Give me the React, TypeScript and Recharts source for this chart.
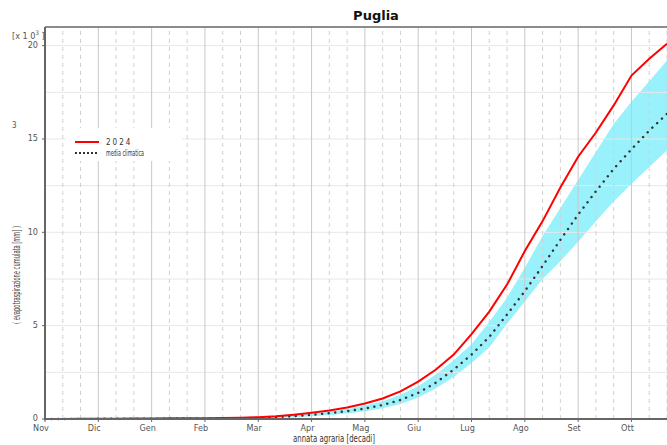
import React from 'react';
import { ComposedChart, Area, Line, XAxis, YAxis, ReferenceLine } from 'recharts';

const FONT = "'Liberation Sans Narrow', 'DejaVu Sans Condensed', 'Roboto', sans-serif";

const MESI = ['Nov', 'Dic', 'Gen', 'Feb', 'Mar', 'Apr', 'Mag', 'Giu', 'Lug', 'Ago', 'Set', 'Ott'];
const DECADI = [0, 1, 2, 3, 4, 5, 6, 7, 8, 9, 10, 11, 12, 13, 14, 15, 16, 17, 18, 19, 20, 21, 22, 23, 24, 25, 26, 27, 28, 29, 30, 31, 32, 33, 34, 35];
const MONTH_TICKS = [0, 3, 6, 9, 12, 15, 18, 21, 24, 27, 30, 33];
const Y_TICKS = [0, 5, 10, 15, 20];
const Y_GRID = [2.5, 5, 7.5, 10, 12.5, 15, 17.5, 20];

// valori in migliaia di mm (x 10^3)
const anno2024 = [0, 0.005, 0.01, 0.015, 0.02, 0.025, 0.03, 0.035, 0.04, 0.045, 0.05, 0.07, 0.1, 0.15, 0.23, 0.33, 0.45, 0.62, 0.83, 1.1, 1.48, 2.0, 2.65, 3.45, 4.55, 5.75, 7.2, 9.0, 10.6, 12.4, 14.05, 15.35, 16.8, 18.4, 19.3, 20.1];
const mediaClimatica = [0, 0.003, 0.006, 0.01, 0.013, 0.016, 0.02, 0.023, 0.026, 0.03, 0.035, 0.045, 0.06, 0.1, 0.15, 0.22, 0.31, 0.42, 0.56, 0.75, 1.02, 1.4, 1.95, 2.65, 3.45, 4.4, 5.6, 6.85, 8.2, 9.6, 10.95, 12.2, 13.4, 14.45, 15.45, 16.35];
const bandaSup = [0, 0.005, 0.01, 0.015, 0.02, 0.025, 0.03, 0.035, 0.04, 0.045, 0.05, 0.065, 0.09, 0.14, 0.21, 0.3, 0.4, 0.54, 0.72, 0.95, 1.3, 1.75, 2.4, 3.15, 4.0, 5.2, 6.5, 8.1, 9.8, 11.3, 12.8, 14.3, 15.8, 17.0, 18.1, 19.2];
const bandaInf = [0, 0.002, 0.004, 0.006, 0.008, 0.01, 0.012, 0.014, 0.016, 0.018, 0.02, 0.03, 0.04, 0.07, 0.1, 0.15, 0.22, 0.3, 0.42, 0.58, 0.8, 1.15, 1.65, 2.25, 3.0, 3.85, 5.1, 6.3, 7.5, 8.45, 9.5, 10.6, 11.65, 12.6, 13.5, 14.4];

const chartData = DECADI.map((d, i) => ({
  decade: d,
  anno: anno2024[i],
  media: mediaClimatica[i],
  banda: [bandaInf[i], bandaSup[i]],
}));

export default function App() {
  return (
    <div style={{ position: 'absolute', left: 0, top: 0, width: 667, height: 445, background: '#fff', fontFamily: FONT }}>
      <ComposedChart width={667} height={445} data={chartData} margin={{ top: 27, right: 0, bottom: 0, left: 0 }}>
        <XAxis
          dataKey="decade"
          type="number"
          domain={[0, 35]}
          ticks={MONTH_TICKS}
          tickFormatter={(v) => MESI[v / 3]}
          height={26}
          axisLine={{ stroke: '#666', strokeWidth: 2 }}
          tickLine={{ stroke: '#666' }}
          tickSize={3}
          tick={{ fill: '#555', fontSize: 9, fontFamily: FONT, dx: -4, dy: 1 }}
          interval={0}
        />
        <YAxis
          type="number"
          domain={[0, 21]}
          ticks={Y_TICKS}
          width={45}
          axisLine={{ stroke: '#666', strokeWidth: 2 }}
          tickLine={{ stroke: '#666' }}
          tickSize={3}
          tick={{ fill: '#555', fontSize: 9, fontFamily: FONT, dy: -1, dx: -2 }}
          interval={0}
        />
        {Y_GRID.map((y) => (
          <ReferenceLine key={`h-${y}`} y={y} stroke="#e8e8e8" strokeWidth={1} />
        ))}
        {DECADI.filter((d) => d > 0).map((d) => (
          <ReferenceLine
            key={`v-${d}`}
            x={d}
            stroke={d % 3 === 0 ? '#c8c8c8' : '#d0d0d0'}
            strokeWidth={1}
            strokeDasharray={d % 3 === 0 ? undefined : '4 4'}
          />
        ))}
        <ReferenceLine y={21} stroke="#666" strokeWidth={1.5} />
        <Area
          dataKey="banda"
          stroke="none"
          fill="#98f1fb"
          fillOpacity={1}
          isAnimationActive={false}
        />
        <Line
          dataKey="media"
          stroke="#333"
          strokeWidth={2.4}
          strokeDasharray="0.1 6.5"
          strokeLinecap="round"
          dot={false}
          isAnimationActive={false}
        />
        <Line
          dataKey="anno"
          stroke="#ff0000"
          strokeWidth={2}
          dot={false}
          isAnimationActive={false}
        />
      </ComposedChart>

      <svg width={667} height={445} style={{ position: 'absolute', left: 0, top: 0, pointerEvents: 'none' }}>
        <text x={376} y={20} textAnchor="middle" fontSize={13} fontWeight="bold" fill="#111" fontFamily="'DejaVu Sans', sans-serif">
          Puglia
        </text>
        <text x={12} y={39} fontSize={9} fill="#555" fontFamily={FONT}>
          [x 1 0<tspan dy={-4} fontSize={6}>3</tspan><tspan dy={4}> ]</tspan>
        </text>
        <text x={12} y={128} fontSize={8} fill="#555" fontFamily={FONT}>3</text>
        <text
          x={20}
          y={275}
          fontSize={10.5}
          fill="#444"
          textAnchor="middle"
          fontFamily={FONT}
          textLength={98}
          lengthAdjust="spacingAndGlyphs"
          transform="rotate(-90 20 275)"
        >
          ( evapotraspirazione cumulata [mm] )
        </text>
        <text
          x={334}
          y={442}
          fontSize={11}
          fill="#333"
          textAnchor="middle"
          fontFamily={FONT}
          textLength={82}
          lengthAdjust="spacingAndGlyphs"
        >
          annata agraria [decadi]
        </text>
      </svg>

      <div style={{ position: 'absolute', left: 66, top: 128, width: 116, height: 33, background: '#fff' }}>
        <svg width={116} height={33}>
          <line x1={9} y1={14} x2={33} y2={14} stroke="#ff0000" strokeWidth={2} />
          <text x={40} y={17} fontSize={8} fill="#333" letterSpacing={2} fontFamily={FONT}>2024</text>
          <line x1={9} y1={25} x2={33} y2={25} stroke="#333" strokeWidth={2} strokeDasharray="2 2" />
          <text x={40} y={28} fontSize={8} fill="#333" fontFamily={FONT} textLength={38} lengthAdjust="spacingAndGlyphs">
            media climatica
          </text>
        </svg>
      </div>
    </div>
  );
}
